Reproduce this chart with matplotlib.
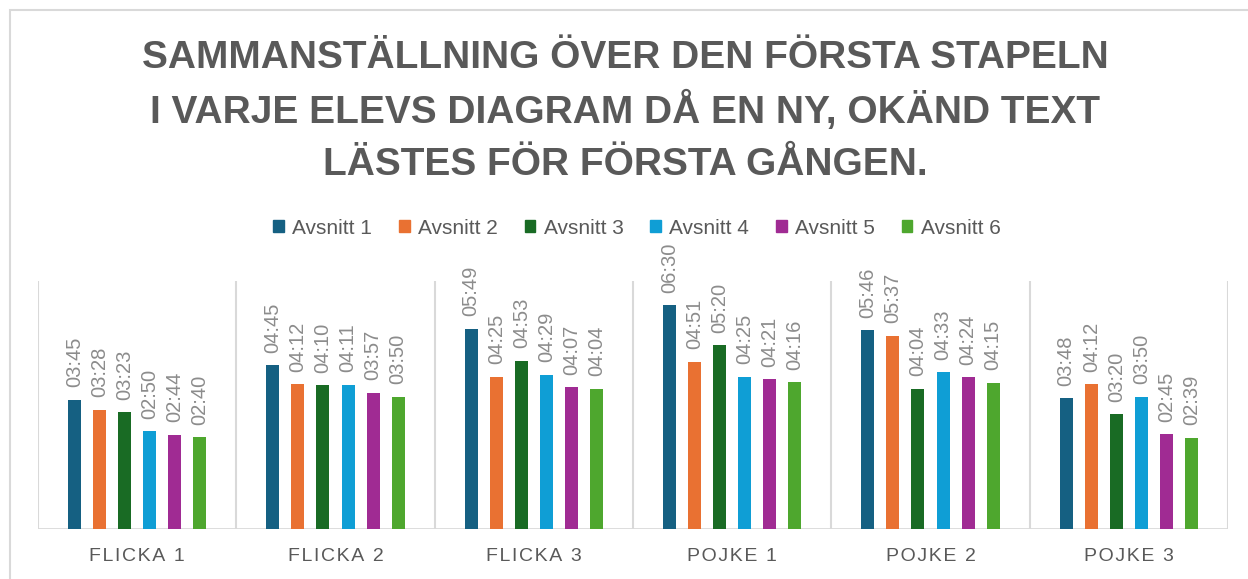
"""
Sammanställning över den första stapeln i varje elevs diagram.
Grouped bar chart, values in mm:ss, labels drawn above each bar.
"""

import matplotlib.pyplot as plt
from matplotlib.patches import Patch, Rectangle
import numpy as np

# ── Data ──────────────────────────────────────────────────────────────
students = ["Flicka 1", "Flicka 2", "Flicka 3", "Pojke 1", "Pojke 2", "Pojke 3"]
series = ["Avsnitt 1", "Avsnitt 2", "Avsnitt 3", "Avsnitt 4", "Avsnitt 5", "Avsnitt 6"]

avsnitt_1 = ["03:45", "04:45", "05:49", "06:30", "05:46", "03:48"]
avsnitt_2 = ["03:28", "04:12", "04:25", "04:51", "05:37", "04:12"]
avsnitt_3 = ["03:23", "04:10", "04:53", "05:20", "04:04", "03:20"]
avsnitt_4 = ["02:50", "04:11", "04:29", "04:25", "04:33", "03:50"]
avsnitt_5 = ["02:44", "03:57", "04:07", "04:21", "04:24", "02:45"]
avsnitt_6 = ["02:40", "03:50", "04:04", "04:16", "04:15", "02:39"]
all_series = [avsnitt_1, avsnitt_2, avsnitt_3, avsnitt_4, avsnitt_5, avsnitt_6]

colors = ["#156082", "#E97132", "#196B24", "#0F9ED5", "#A02B93", "#4EA72E"]

title_lines = ["SAMMANSTÄLLNING ÖVER DEN FÖRSTA STAPELN",
               "I VARJE ELEVS DIAGRAM DÅ EN NY, OKÄND TEXT",
               "LÄSTES FÖR FÖRSTA GÅNGEN."]


def to_sec(s):
    m, sec = s.split(":")
    return int(m) * 60 + int(sec)


def spaced(s):
    # wide letter spacing like the original axis labels
    return "\u200a".join(s.upper())


# ── Style ─────────────────────────────────────────────────────────────
plt.rcParams["font.family"] = ["Liberation Sans", "DejaVu Sans"]
GRID = "#d9d9d9"
TXT = "#595959"
LBL = "#8c8c8c"

W, H = 1248, 579
fig = plt.figure(figsize=(W / 100, H / 100), dpi=100, facecolor="white")
ax = fig.add_axes([38 / W, (H - 529) / H, (1228 - 38) / W, (529 - 281) / H])

# chart-area border (cropped on right and bottom)
fig.add_artist(Rectangle((10 / W, -0.1), 1.2, 1 - 10 / H + 0.1,
                         transform=fig.transFigure, fill=False, ec=GRID, lw=1.5))

# ── Bars ──────────────────────────────────────────────────────────────
x = np.arange(len(students)) + 0.5
slot = 25 / 198
bar_w = 13 / 198
for j, (vals, col) in enumerate(zip(all_series, colors)):
    secs = [to_sec(v) for v in vals]
    xs = x + (j - 2.5) * slot
    ax.bar(xs, secs, width=bar_w, color=col, zorder=3)
    for xi, s, txt in zip(xs, secs, vals):
        ax.annotate(txt, (xi, s), xytext=(0, 9), textcoords="offset points",
                    rotation=90, ha="center", va="bottom", fontsize=14.5,
                    color=LBL, clip_on=False)

ax.set_xlim(0, len(students))
ax.set_ylim(0, 432)  # 0.005 days

for b in range(len(students) + 1):
    ax.axvline(b, color=GRID, lw=1.5, zorder=1)
ax.axhline(0, color=GRID, lw=2, zorder=2)

for sp in ax.spines.values():
    sp.set_visible(False)
ax.set_yticks([])
ax.set_xticks(x)
ax.set_xticklabels([spaced(s) for s in students], fontsize=14, color=TXT)
ax.tick_params(axis="x", length=0, pad=14)

# ── Legend ────────────────────────────────────────────────────────────
handles = [Patch(facecolor=c, edgecolor=c) for c in colors]
fig.legend(handles, series, loc="center", bbox_to_anchor=(637 / W, 1 - 228 / H),
           ncol=6, frameon=False, fontsize=15, labelcolor=TXT,
           handlelength=0.5, handleheight=0.5, handletextpad=0.4,
           columnspacing=1.3)

# ── Title ─────────────────────────────────────────────────────────────
for line, yc in zip(title_lines, [54, 107, 161]):
    fig.text(625 / W, 1 - yc / H, line, ha="center", va="center_baseline",
             fontsize=28, fontweight="bold", color=TXT)

plt.savefig("out.png", dpi=100, facecolor="white")
plt.close()
